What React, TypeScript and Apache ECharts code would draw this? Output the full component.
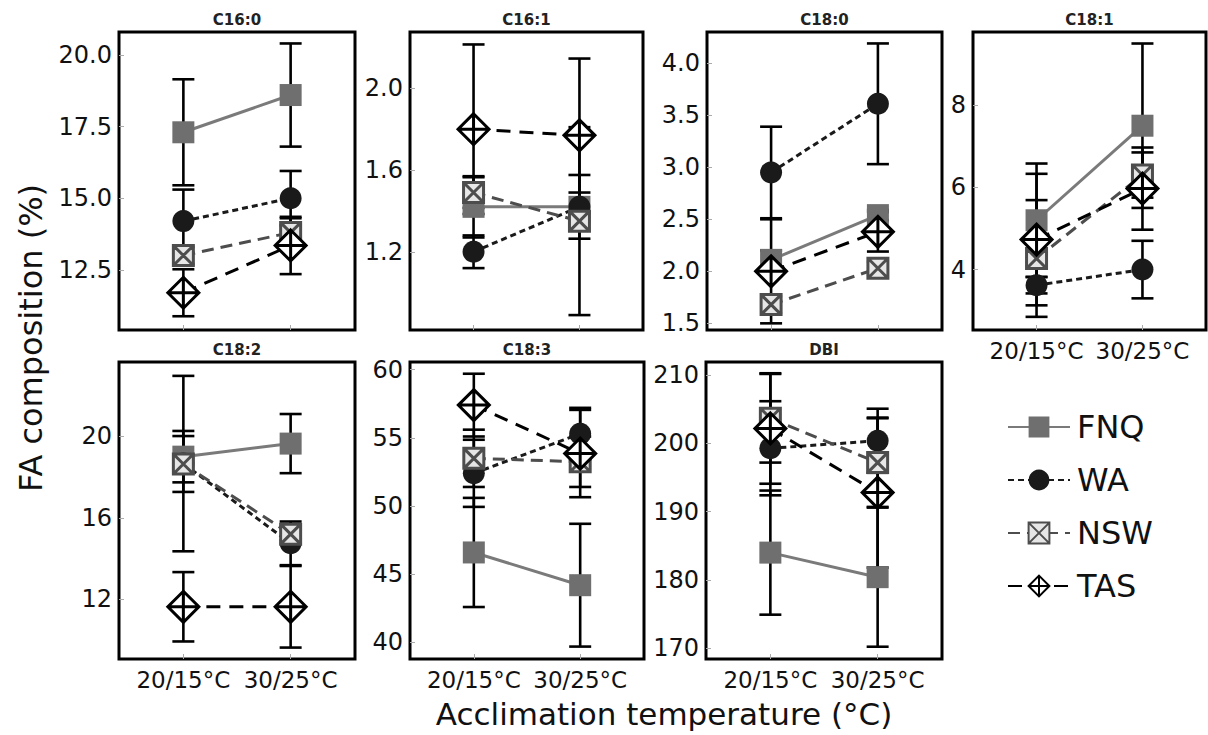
import React, { useEffect, useRef } from "react";
import * as echarts from "echarts";

const categories = ["20/15°C", "30/25°C"];
const populations = ["FNQ", "WA", "NSW", "TAS"];
const panelNames = ["C16:0", "C16:1", "C18:0", "C18:1", "C18:2", "C18:3", "DBI"];

// means: [FNQ, WA, NSW, TAS] x [20/15, 30/25]
const c160Mean = [[17.3, 18.6], [14.2, 15.0], [13.0, 13.8], [11.7, 13.35]];
const c160Err = [[1.85, 1.8], [1.1, 0.95], [0.3, 0.5], [0.82, 1.0]];
const c161Mean = [[1.42, 1.42], [1.2, 1.42], [1.49, 1.35], [1.8, 1.77]];
const c161Err = [[0.15, 0.07], [0.08, 0.156], [0.075, 0.46], [0.415, 0.376]];
const c180Mean = [[2.11, 2.54], [2.95, 3.61], [1.68, 2.03], [2.0, 2.38]];
const c180Err = [[0.09, 0.05], [0.44, 0.58], [0.08, 0.06], [0.5, 0.19]];
const c181Mean = [[5.2, 7.5], [3.62, 4.0], [4.27, 6.3], [4.73, 5.97]];
const c181Err = [[1.38, 2.0], [0.2, 0.7], [1.42, 0.55], [1.6, 1.0]];
const c182Mean = [[19.0, 19.64], [18.66, 14.75], [18.64, 15.2], [11.64, 11.64]];
const c182Err = [[1.26, 1.45], [4.3, 1.07], [1.37, 0.3], [1.7, 2.0]];
const c183Mean = [[46.6, 44.2], [52.4, 55.3], [53.5, 53.25], [57.4, 53.85]];
const c183Err = [[4.0, 4.5], [2.46, 1.9], [2.1, 1.85], [2.3, 3.2]];
const dbiMean = [[184.0, 180.4], [199.3, 200.4], [203.7, 197.2], [202.2, 192.8]];
const dbiErr = [[9.1, 10.2], [6.9, 4.7], [6.5, 6.5], [8.1, 11.0]];

const yMin = [10.4, 0.817, 1.436, 2.53, 9.08, 38.79, 168.4];
const yMax = [20.8, 2.276, 4.3, 9.78, 23.64, 60.56, 211.95];
const yTicks = [
  [12.5, 15, 17.5, 20],
  [1.2, 1.6, 2.0],
  [1.5, 2.0, 2.5, 3.0, 3.5, 4.0],
  [4, 6, 8],
  [12, 16, 20],
  [40, 45, 50, 55, 60],
  [170, 180, 190, 200, 210],
];
const yDecimals = [1, 1, 1, 0, 0, 0, 0];

const means = [c160Mean, c161Mean, c180Mean, c181Mean, c182Mean, c183Mean, dbiMean];
const errs = [c160Err, c161Err, c180Err, c181Err, c182Err, c183Err, dbiErr];

// layout
const gridBoxes = [
  [119, 32, 236, 298],
  [410, 32, 233, 298],
  [707, 32, 235, 298],
  [973, 32, 233, 298],
  [119, 362, 236, 297],
  [410, 362, 234, 297],
  [706, 362, 236, 297],
];
const showXLabels = [false, false, false, true, true, true, true];

const FONT = "DejaVu Sans";

const popStyles: any[] = [
  { symbol: "rect", size: 22, color: "#6f6f6f", border: "#6f6f6f", bw: 0, line: "#7a7a7a", type: "solid" },
  { symbol: "circle", size: 22, color: "#1a1a1a", border: "#1a1a1a", bw: 0, line: "#1a1a1a", type: [6, 4] },
  {
    symbol: "path://M0,0L20,0L20,20L0,20ZM0,0L20,20M20,0L0,20",
    size: 20,
    color: "#e6e6e6",
    border: "#4d4d4d",
    bw: 3,
    line: "#4d4d4d",
    type: [12, 7],
  },
  {
    symbol: "path://M10,0L20,10L10,20L0,10ZM10,0L10,20M0,10L20,10",
    size: 31,
    color: "#ffffff",
    border: "#000000",
    bw: 3,
    line: "#000000",
    type: [14, 9],
  },
];

export default function App() {
  const ref = useRef<HTMLDivElement>(null);
  useEffect(() => {
    if (!ref.current) return;
    const chart = echarts.init(ref.current, null, { renderer: "svg" });

    const grid = gridBoxes.map((b) => ({
      left: b[0],
      top: b[1],
      width: b[2],
      height: b[3],
      show: true,
      borderColor: "#000",
      borderWidth: 3,
      backgroundColor: "transparent",
      containLabel: false,
    }));

    const xAxis = gridBoxes.map((_, i) => ({
      type: "value",
      gridIndex: i,
      min: -0.6,
      max: 1.6,
      axisLine: { show: false, onZero: false },
      splitLine: { show: false },
      axisTick: {
        show: true,
        inside: true,
        length: 5,
        customValues: [0, 1],
        lineStyle: { color: "#aaaaaa", width: 1 },
      },
      axisLabel: {
        show: showXLabels[i],
        customValues: [0, 1],
        formatter: (v: number) => categories[Math.round(v)] ?? "",
        fontSize: 23,
        fontFamily: FONT,
        color: "#111",
        margin: 9,
      },
    }));

    const yAxis = gridBoxes.map((_, i) => ({
      type: "value",
      gridIndex: i,
      min: yMin[i],
      max: yMax[i],
      axisLine: { show: false, onZero: false },
      splitLine: { show: false },
      axisTick: {
        show: true,
        inside: true,
        length: 5,
        customValues: yTicks[i],
        lineStyle: { color: "#aaaaaa", width: 1 },
      },
      axisLabel: {
        show: true,
        customValues: yTicks[i],
        formatter: (v: number) => v.toFixed(yDecimals[i]),
        fontSize: 24,
        fontFamily: FONT,
        color: "#111",
        margin: 7,
      },
    }));

    const series: any[] = [];
    gridBoxes.forEach((_, i) => {
      const ebData: number[][] = [];
      populations.forEach((_, p) => {
        categories.forEach((_, c) => {
          const m = means[i][p][c];
          const e = errs[i][p][c];
          ebData.push([c, m - e, m + e]);
        });
      });
      series.push({
        type: "custom",
        xAxisIndex: i,
        yAxisIndex: i,
        silent: true,
        z: 1,
        clip: false,
        encode: { x: 0, y: [1, 2] },
        data: ebData,
        renderItem: (params: any, api: any) => {
          const x = api.value(0);
          const lo = api.coord([x, api.value(1)]);
          const hi = api.coord([x, api.value(2)]);
          const hw = 11;
          const st = { stroke: "#000", lineWidth: 2.6 };
          return {
            type: "group",
            children: [
              { type: "line", shape: { x1: lo[0], y1: lo[1], x2: hi[0], y2: hi[1] }, style: st },
              { type: "line", shape: { x1: lo[0] - hw, y1: lo[1], x2: lo[0] + hw, y2: lo[1] }, style: st },
              { type: "line", shape: { x1: hi[0] - hw, y1: hi[1], x2: hi[0] + hw, y2: hi[1] }, style: st },
            ],
          };
        },
      });
      populations.forEach((name, p) => {
        const s = popStyles[p];
        series.push({
          type: "line",
          name,
          xAxisIndex: i,
          yAxisIndex: i,
          silent: true,
          z: 3 + p,
          data: categories.map((_, c) => [c, means[i][p][c]]),
          symbol: s.symbol,
          symbolSize: s.size,
          showSymbol: true,
          itemStyle: { color: s.color, borderColor: s.border, borderWidth: s.bw, opacity: 1 },
          lineStyle: { color: s.line, type: s.type, width: 3 },
        });
      });
    });

    const graphic: any[] = [
      {
        type: "text",
        x: 31,
        y: 338,
        rotation: Math.PI / 2,
        style: {
          text: "FA composition (%)",
          fontSize: 32,
          fontFamily: FONT,
          fill: "#111",
          align: "center",
          verticalAlign: "middle",
        },
      },
      {
        type: "text",
        x: 664,
        y: 714,
        style: {
          text: "Acclimation temperature (°C)",
          fontSize: 31,
          fontFamily: FONT,
          fill: "#111",
          align: "center",
          verticalAlign: "middle",
        },
      },
    ];
    gridBoxes.forEach((b, i) => {
      graphic.push({
        type: "text",
        x: b[0] + b[2] / 2,
        y: b[1] - 12,
        style: {
          text: panelNames[i],
          fontSize: 15,
          fontWeight: "bold",
          fontFamily: FONT,
          fill: "#222",
          align: "center",
          verticalAlign: "middle",
        },
      });
    });

    chart.setOption({
      animation: false,
      backgroundColor: "#ffffff",
      grid,
      xAxis,
      yAxis,
      series,
      graphic,
      legend: {
        data: populations,
        orient: "vertical",
        left: 1002,
        top: 406,
        itemWidth: 62,
        itemHeight: 26,
        itemGap: 21,
        selectedMode: false,
        textStyle: { fontSize: 32, fontFamily: FONT, color: "#111", lineHeight: 26, padding: [0, 0, 0, 2] },
      },
    });
    return () => chart.dispose();
  }, []);
  return <div ref={ref} style={{ position: "absolute", left: 0, top: 0, width: 1208, height: 735 }} />;
}
